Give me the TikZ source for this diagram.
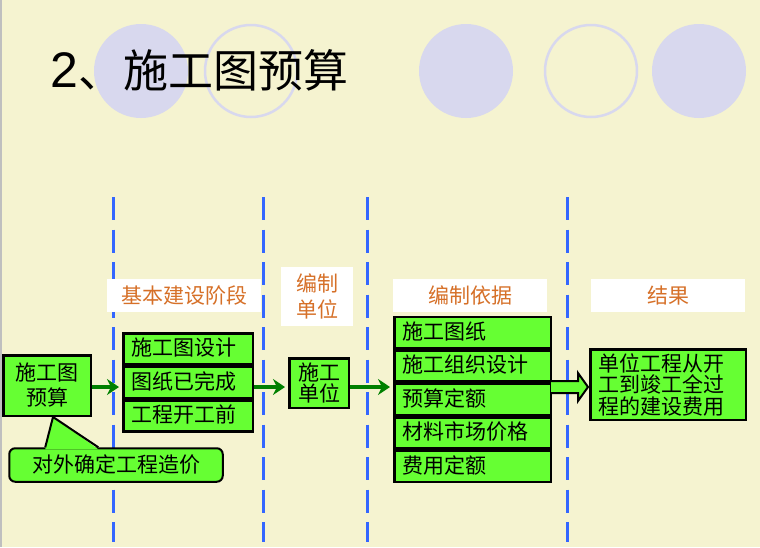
\documentclass[tikz,border=0pt]{standalone}
\usepackage{fontspec}
\setmainfont{Liberation Sans}
\newfontfamily\cjk{Noto Sans CJK SC}
\usetikzlibrary{positioning,calc,arrows.meta}
\definecolor{slidebg}{RGB}{245,243,208}
\definecolor{dotfill}{RGB}{216,216,238}
\definecolor{boxgreen}{RGB}{102,255,51}
\definecolor{arrowgreen}{RGB}{0,128,0}
\definecolor{lineblue}{RGB}{51,102,255}
\definecolor{hdrorange}{RGB}{214,112,40}
\begin{document}
\begin{tikzpicture}[x=1pt,y=-1pt,
    every node/.style={font=\cjk\fontsize{21}{21}\selectfont},
    greenbox/.style={draw, line width=2.5pt, fill=boxgreen, inner sep=0pt},
    rowbox/.style={greenbox, minimum height=31pt, align=left, inner xsep=8pt, text height=17pt, text depth=4pt},
    hdr/.style={fill=white, text=hdrorange, inner sep=0pt},
    flow/.style={draw=arrowgreen, line width=3.5pt, -{Stealth[length=12pt,width=16pt,inset=4pt]}, shorten >=3pt},
    fatarrow/.style={draw, line width=2pt, fill=boxgreen, line join=miter},
    divider/.style={lineblue, line width=3pt, dash pattern=on 23pt off 9.5pt},
    callbox/.style={greenbox, line width=2pt, rounded corners=6pt, minimum width=213.5pt, minimum height=33.5pt}]
  % slide background
  \fill[slidebg] (0,0) rectangle (760,547);
  \useasboundingbox (0,0) rectangle (760,547);
  \draw[gray!50, line width=2pt] (1,0) -- (1,547);

  % decoration circles
  \foreach \cx in {141,466,699}
    \fill[dotfill] (\cx,71) circle (47);
  \foreach \cx in {251,591}
    \draw[dotfill, line width=2.5pt] (\cx,71) circle (46);

  \node[anchor=base west, inner sep=0pt] (title) at (50,87)
    {\fontspec{Liberation Sans}\fontsize{50}{50}\selectfont 2\cjk\fontsize{45}{45}\selectfont 、施工图预算};

  % stage dividers
  \foreach \dx in {113,263,367,567}
    \draw[divider] (\dx,197) -- (\dx,542);

  % column headers
  \node[hdr, minimum width=154pt, minimum height=33pt] (h1) at (184,295.5) {基本建设阶段};
  \node[hdr, minimum width=72pt, minimum height=59pt, align=center, font=\cjk\fontsize{21}{26}\selectfont] (h2) at (317,296.5) {编制\\单位};
  \node[hdr, minimum width=154pt, minimum height=33pt] (h3) at (470,295.5) {编制依据};
  \node[hdr, minimum width=154pt, minimum height=33pt] (h4) at (668,295.5) {结果};

  % boxes
  \node[greenbox, minimum width=87.5pt, minimum height=60.5pt, align=center, font=\cjk\fontsize{21}{25}\selectfont] (b1) at (47,385.5) {施工图\\预算};

  \node[rowbox, minimum width=129.5pt, text width=113.5pt] (s1a) at (188,349) {施工图设计};
  \node[rowbox, minimum width=129.5pt, text width=113.5pt, below=0pt of s1a] (s1b) {图纸已完成};
  \node[rowbox, minimum width=129.5pt, text width=113.5pt, below=0pt of s1b] (s1c) {工程开工前};

  \node[greenbox, minimum width=59.5pt, minimum height=49.5pt, align=center, font=\cjk\fontsize{21}{21}\selectfont] (unit) at (319,383) {施工\\单位};

  \node[rowbox, minimum width=156.5pt, text width=140.5pt] (s2a) at (472.5,332.5) {施工图纸};
  \node[rowbox, minimum width=156.5pt, text width=140.5pt, below=0pt of s2a] (s2b) {施工组织设计};
  \node[rowbox, minimum width=156.5pt, text width=140.5pt, below=0pt of s2b] (s2c) {预算定额};
  \node[rowbox, minimum width=156.5pt, text width=140.5pt, below=0pt of s2c] (s2d) {材料市场价格};
  \node[rowbox, minimum width=156.5pt, text width=140.5pt, below=0pt of s2d] (s2e) {费用定额};

  \node[greenbox, minimum width=155.5pt, minimum height=70.5pt, text width=139.5pt, inner xsep=8pt, align=left, font=\cjk\fontsize{21}{21.5}\selectfont] (res) at (668,384.5) {单位工程从开\\工到竣工全过\\程的建设费用};

  % flow arrows
  \coordinate (mid) at (0,387);
  \draw[flow] (b1.east |- mid) -- (s1b.west |- mid);
  \draw[flow] (s1b.east |- mid) -- (unit.west |- mid);
  \draw[flow] (unit.east |- mid) -- (s2c.west |- mid);
  \coordinate (from) at (s2c.east |- mid);
  \coordinate (to) at (res.west |- mid);
  \draw[fatarrow] ($(from)+(-1,-6)$) -- ($(to)+(-11,-6)$) -- ($(to)+(-11,-14)$) -- ($(to)+(-1,0)$)
    -- ($(to)+(-11,14)$) -- ($(to)+(-11,6)$) -- ($(from)+(-1,6)$);

  % callout
  \node[callbox] (note) at (116,465) {对外确定工程造价};
  \coordinate (tip) at ($(b1.south)+(6,0)$);
  \coordinate (p1) at ($(note.north west)+(37,0)$);
  \coordinate (p2) at ($(note.north west)+(90,0)$);
  \fill[boxgreen] ($(p1)+(0,2)$) -- (tip) -- ($(p2)+(0,2)$) -- cycle;
  \draw[line width=2pt, line join=round] (p1) -- (tip) -- (p2);
\end{tikzpicture}
\end{document}
